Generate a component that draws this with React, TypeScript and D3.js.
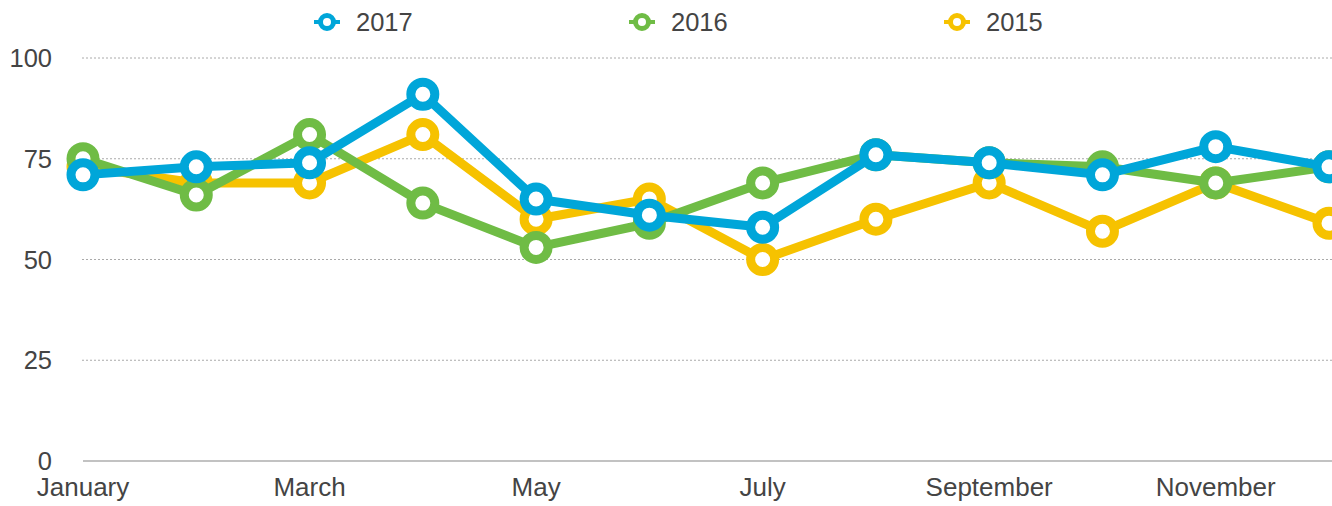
import React, { useEffect, useRef } from 'react';
import * as d3 from 'd3';

const months = [
  'January', 'February', 'March', 'April', 'May', 'June',
  'July', 'August', 'September', 'October', 'November', 'December',
];
const shownMonths = ['January', 'March', 'May', 'July', 'September', 'November'];
const yTicks = [0, 25, 50, 75, 100];

const values2017 = [71, 73, 74, 91, 65, 61, 58, 76, 74, 71, 78, 73];
const values2016 = [75, 66, 81, 64, 53, 59, 69, 76, 74, 73, 69, 73];
const values2015 = [73, 69, 69, 81, 60, 65, 50, 60, 69, 57, 69, 59];

const seriesNames = ['2017', '2016', '2015'];
const seriesColors = ['#00a6d9', '#6fbc45', '#f6c200'];

const App = () => {
  const svgRef = useRef(null);

  useEffect(() => {
    const svg = d3.select(svgRef.current);
    svg.selectAll('*').remove();

    const width = 1332;
    const height = 506;
    const font = '"Helvetica Neue", Helvetica, Arial, "Liberation Sans", sans-serif';
    const textColor = '#444';

    svg.attr('width', width).attr('height', height);

    const x = d3.scalePoint().domain(months).range([83, 1329]);
    const y = d3.scaleLinear().domain([0, 100]).range([461, 58]);

    const series = [
      { name: seriesNames[0], color: seriesColors[0], values: values2017 },
      { name: seriesNames[1], color: seriesColors[1], values: values2016 },
      { name: seriesNames[2], color: seriesColors[2], values: values2015 },
    ];

    // grid lines
    svg.append('g')
      .selectAll('line')
      .data(yTicks.filter(d => d > 0))
      .enter()
      .append('line')
      .attr('x1', 82)
      .attr('x2', width)
      .attr('y1', d => y(d))
      .attr('y2', d => y(d))
      .attr('stroke', '#aaa')
      .attr('stroke-width', 1)
      .attr('stroke-dasharray', '2,2');

    // baseline
    svg.append('line')
      .attr('x1', 83)
      .attr('x2', width)
      .attr('y1', y(0))
      .attr('y2', y(0))
      .attr('stroke', '#c2c2c2')
      .attr('stroke-width', 2);

    // y labels
    svg.append('g')
      .selectAll('text')
      .data(yTicks)
      .enter()
      .append('text')
      .attr('x', 52)
      .attr('y', d => y(d) + 9)
      .attr('text-anchor', 'end')
      .style('font-family', font)
      .attr('font-size', 25.5)
      .attr('fill', textColor)
      .text(d => d);

    // x labels
    svg.append('g')
      .selectAll('text')
      .data(shownMonths)
      .enter()
      .append('text')
      .attr('x', d => x(d))
      .attr('y', 496)
      .attr('text-anchor', 'middle')
      .style('font-family', font)
      .attr('font-size', 26)
      .attr('fill', textColor)
      .text(d => d);

    const line = d3.line()
      .x((d, i) => x(months[i]))
      .y(d => y(d));

    // draw 2015 first so 2017 ends up on top
    series.slice().reverse().forEach(s => {
      const g = svg.append('g');
      g.append('path')
        .datum(s.values)
        .attr('d', line)
        .attr('fill', 'none')
        .attr('stroke', s.color)
        .attr('stroke-width', 9)
        .attr('stroke-linejoin', 'round');
      g.selectAll('circle')
        .data(s.values)
        .enter()
        .append('circle')
        .attr('cx', (d, i) => x(months[i]))
        .attr('cy', d => y(d))
        .attr('r', 12)
        .attr('fill', 'white')
        .attr('stroke', s.color)
        .attr('stroke-width', 9);
    });

    // legend
    const legend = svg.append('g')
      .selectAll('g')
      .data(series)
      .enter()
      .append('g')
      .attr('transform', (d, i) => `translate(${327 + i * 315},22)`);

    legend.append('line')
      .attr('x1', -13)
      .attr('x2', 13)
      .attr('stroke', d => d.color)
      .attr('stroke-width', 4);

    legend.append('circle')
      .attr('r', 6.5)
      .attr('fill', 'white')
      .attr('stroke', d => d.color)
      .attr('stroke-width', 5);

    legend.append('text')
      .attr('x', 29)
      .attr('y', 9)
      .style('font-family', font)
      .attr('font-size', 25.5)
      .attr('fill', textColor)
      .text(d => d.name);
  }, []);

  return (
    <svg
      ref={svgRef}
      style={{ position: 'absolute', left: 0, top: 0, display: 'block' }}
    ></svg>
  );
};

export default App;
